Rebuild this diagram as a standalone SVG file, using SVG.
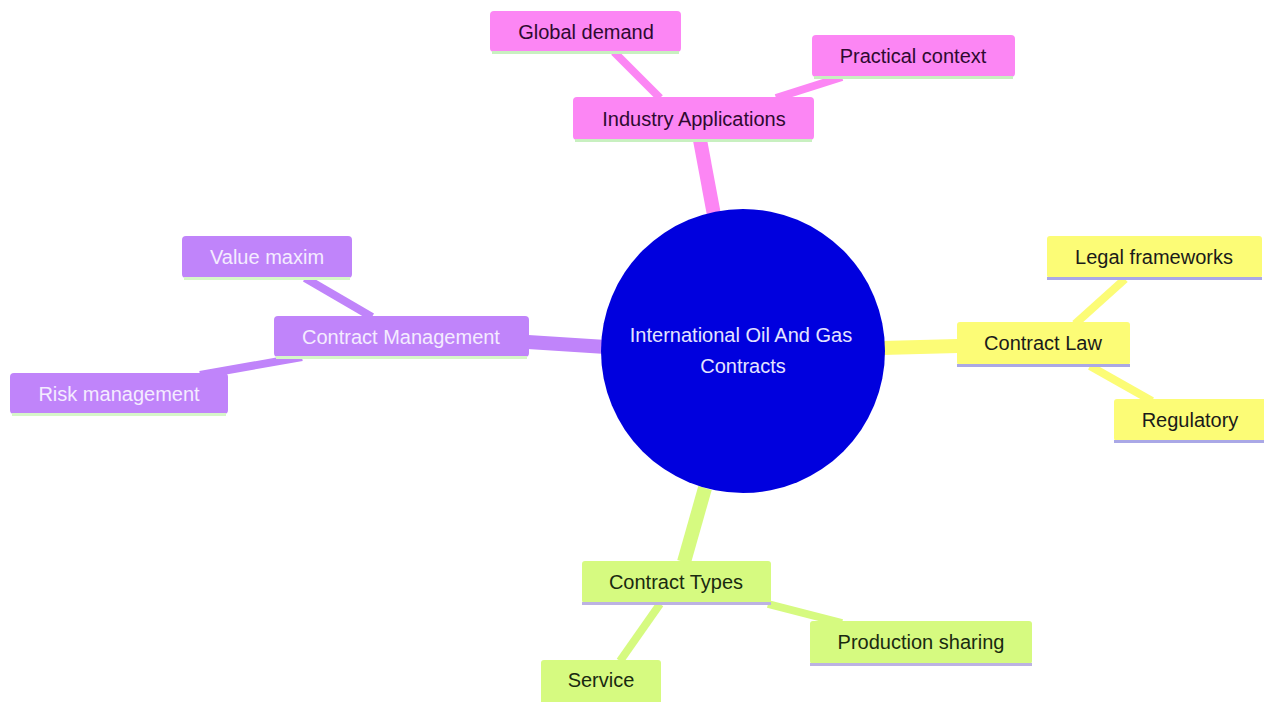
<svg xmlns="http://www.w3.org/2000/svg" width="1264" height="702" viewBox="0 0 1264 702">
<defs>
<style>
text{font-family:"Liberation Sans",Arial,sans-serif;font-size:20px;text-anchor:middle;dominant-baseline:central}
.box{stroke:none}
.pink .box{fill:#fc86f4}
.pink text{fill:#2e0a30}
.pink .ln{stroke:#c8f0c0}
.purple .box{fill:#c084fa}
.purple text{fill:#f4ecff}
.purple .ln{stroke:#d6f6c8}
.yellow .box{fill:#fcfc76}
.yellow text{fill:#1a1a1a}
.yellow .ln{stroke:#aaa8e6}
.green .box{fill:#d6fa80}
.green text{fill:#1a2a10}
.green .ln{stroke:#bcb2e2}
.ln{stroke-width:3}
.e{fill:none;stroke-linecap:butt}
.ep{stroke:#fc86f4}.eu{stroke:#c084fa}.ey{stroke:#fcfc76}.eg{stroke:#d6fa80}
.thick{stroke-width:14}.thin{stroke-width:8}
</style>
</defs>
<rect width="1264" height="702" fill="#ffffff"/>
<g id="connectors">
<line class="e ep thick" x1="714" y1="215" x2="700" y2="140"/>
<line class="e ep thin" x1="614" y1="52" x2="660" y2="98"/>
<line class="e ep thin" x1="842" y1="77" x2="776" y2="98"/>
<line class="e eu thick" x1="606" y1="347" x2="528" y2="342"/>
<line class="e eu thin" x1="305" y1="278" x2="372" y2="317"/>
<line class="e eu thin" x1="200" y1="375" x2="302" y2="357"/>
<line class="e ey thick" x1="882" y1="348" x2="958" y2="346"/>
<line class="e ey thin" x1="1125" y1="279" x2="1075" y2="324"/>
<line class="e ey thin" x1="1090" y1="366" x2="1152" y2="401"/>
<line class="e eg thick" x1="705" y1="488" x2="684" y2="562"/>
<line class="e eg thin" x1="768" y1="604" x2="842" y2="623"/>
<line class="e eg thin" x1="660" y1="604" x2="620" y2="661"/>
</g>
<g id="root">
<circle cx="743" cy="351" r="142" fill="#0000de"/>
<text x="741" y="335" fill="#e4e4ff">International Oil And Gas</text>
<text x="743" y="366" fill="#e4e4ff">Contracts</text>
</g>
<g id="industry-applications" class="pink">
<rect class="box" x="573" y="97" width="241" height="43" rx="4"/>
<line class="ln" x1="575" y1="140.5" x2="812" y2="140.5"/>
<text x="694" y="119">Industry Applications</text>
</g>
<g id="global-demand" class="pink">
<rect class="box" x="490" y="11" width="191" height="41" rx="4"/>
<line class="ln" x1="492" y1="52.5" x2="679" y2="52.5"/>
<text x="586" y="32">Global demand</text>
</g>
<g id="practical-context" class="pink">
<rect class="box" x="812" y="35" width="203" height="42" rx="4"/>
<line class="ln" x1="814" y1="77.5" x2="1013" y2="77.5"/>
<text x="913" y="56">Practical context</text>
</g>
<g id="contract-management" class="purple">
<rect class="box" x="274" y="316" width="255" height="41" rx="4"/>
<line class="ln" x1="276" y1="357.5" x2="527" y2="357.5"/>
<text x="401" y="337">Contract Management</text>
</g>
<g id="value-maxim" class="purple">
<rect class="box" x="182" y="236" width="170" height="42" rx="4"/>
<line class="ln" x1="184" y1="278.5" x2="350" y2="278.5"/>
<text x="267" y="257">Value maxim</text>
</g>
<g id="risk-management" class="purple">
<rect class="box" x="10" y="373" width="218" height="41" rx="4"/>
<line class="ln" x1="12" y1="414.5" x2="226" y2="414.5"/>
<text x="119" y="394">Risk management</text>
</g>
<g id="contract-law" class="yellow">
<rect class="box" x="957" y="322" width="173" height="43" rx="3"/>
<line class="ln" x1="957" y1="365.5" x2="1130" y2="365.5"/>
<text x="1043" y="343">Contract Law</text>
</g>
<g id="legal-frameworks" class="yellow">
<rect class="box" x="1047" y="236" width="215" height="42" rx="3"/>
<line class="ln" x1="1047" y1="278.5" x2="1262" y2="278.5"/>
<text x="1154" y="257">Legal frameworks</text>
</g>
<g id="regulatory" class="yellow">
<rect class="box" x="1114" y="399" width="152" height="42" rx="3"/>
<line class="ln" x1="1114" y1="441.5" x2="1266" y2="441.5"/>
<text x="1190" y="420">Regulatory</text>
</g>
<g id="contract-types" class="green">
<rect class="box" x="582" y="561" width="189" height="42" rx="3"/>
<line class="ln" x1="582" y1="603.5" x2="771" y2="603.5"/>
<text x="676" y="582">Contract Types</text>
</g>
<g id="production-sharing" class="green">
<rect class="box" x="810" y="621" width="222" height="43" rx="3"/>
<line class="ln" x1="810" y1="664.5" x2="1032" y2="664.5"/>
<text x="921" y="642">Production sharing</text>
</g>
<g id="service" class="green">
<rect class="box" x="541" y="660" width="120" height="44" rx="3"/>
<text x="601" y="680">Service</text>
</g>
</svg>
